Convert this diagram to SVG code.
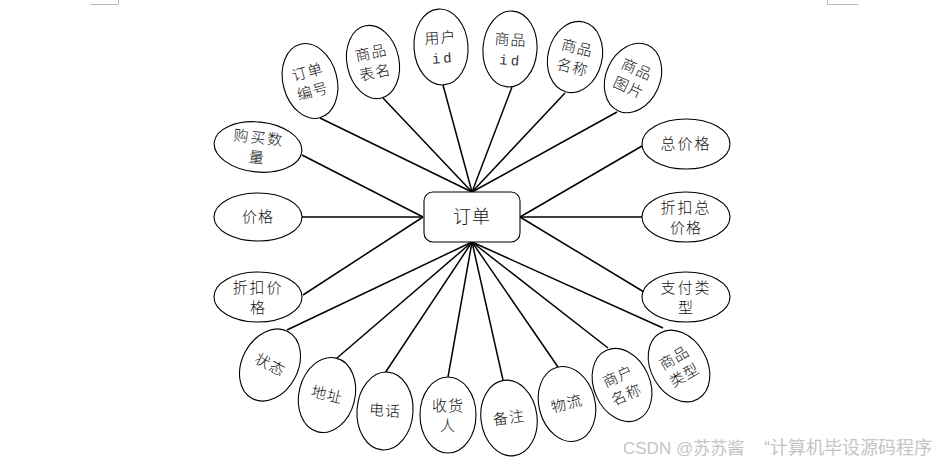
<svg xmlns="http://www.w3.org/2000/svg" width="936" height="464" viewBox="0 0 936 464">
<style>
.e{fill:#fff;stroke:#000;stroke-width:1.1}
.t{font-family:"Noto Sans CJK SC","Liberation Sans",sans-serif;font-size:15px;font-weight:300;fill:#111;text-anchor:middle;letter-spacing:1px}
.id{font-family:"Liberation Mono",monospace;font-size:14px;font-weight:normal;letter-spacing:3px;fill:#333}
.c line{stroke:#000;stroke-width:1.5}
.wm{font-family:"Liberation Sans","Noto Sans CJK SC",sans-serif;font-size:17px;fill:#c4c4c4}
</style>
<rect width="936" height="464" fill="#fff"/>
<path d="M90 4.5H118.5V0M827.5 0V4.5H858" fill="none" stroke="#bbb" stroke-width="1"/>
<g class="c" id="connectors">
<line x1="320" y1="118" x2="472" y2="192"/>
<line x1="383" y1="98" x2="472" y2="192"/>
<line x1="443" y1="85" x2="472" y2="192"/>
<line x1="512" y1="87" x2="472" y2="192"/>
<line x1="565" y1="93" x2="472" y2="192"/>
<line x1="617" y1="112" x2="472" y2="192"/>
<line x1="302" y1="155" x2="423" y2="217"/>
<line x1="302" y1="217" x2="423" y2="217"/>
<line x1="303" y1="295" x2="423" y2="217"/>
<line x1="642" y1="146" x2="520" y2="217"/>
<line x1="642" y1="217" x2="520" y2="217"/>
<line x1="644" y1="292" x2="520" y2="217"/>
<line x1="287" y1="330" x2="472" y2="242"/>
<line x1="337" y1="358" x2="472" y2="242"/>
<line x1="385" y1="373" x2="472" y2="242"/>
<line x1="448" y1="377" x2="472" y2="242"/>
<line x1="503" y1="380" x2="472" y2="242"/>
<line x1="558" y1="367" x2="472" y2="242"/>
<line x1="608" y1="348" x2="472" y2="242"/>
<line x1="663" y1="328" x2="472" y2="242"/>
</g>
<g id="order">
<rect x="424" y="192" width="96" height="50" rx="9" fill="#fff" stroke="#000" stroke-width="1.1"/>
<text x="472" y="223" class="t" style="font-size:18px">订单</text>
</g>
<g id="n-ddbh" transform="translate(310,81) rotate(-15)"><ellipse class="e" rx="27" ry="38"/><text class="t" y="-4">订单</text><text class="t" y="16">编号</text></g>
<g id="n-spbm" transform="translate(373,62) rotate(-12)"><ellipse class="e" rx="26" ry="37"/><text class="t" y="-4">商品</text><text class="t" y="16">表名</text></g>
<g id="n-yhid" transform="translate(441,47) rotate(-4)"><ellipse class="e" rx="27" ry="38"/><text class="t" y="-4">用户</text><text class="t id" x="1.5" y="16">id</text></g>
<g id="n-spid" transform="translate(510,49) rotate(4)"><ellipse class="e" rx="27" ry="38"/><text class="t" y="-4">商品</text><text class="t id" x="1.5" y="16">id</text></g>
<g id="n-spmc" transform="translate(575,57) rotate(14)"><ellipse class="e" rx="27" ry="36"/><text class="t" y="-4">商品</text><text class="t" y="16">名称</text></g>
<g id="n-sptp" transform="translate(633,78) rotate(24)"><ellipse class="e" rx="27" ry="36"/><text class="t" y="-4">商品</text><text class="t" y="16">图片</text></g>
<g id="n-gmsl" transform="translate(258,147) rotate(6)"><ellipse class="e" rx="44" ry="25"/><text class="t" y="-4" style="letter-spacing:2px">购买数</text><text class="t" y="16">量</text></g>
<g id="n-jg"><ellipse class="e" cx="258" cy="217" rx="44" ry="24"/><text class="t" x="258" y="222">价格</text></g>
<g id="n-zkjg"><ellipse class="e" cx="258" cy="297" rx="44" ry="25"/><text class="t" x="258" y="293" style="letter-spacing:2px">折扣价</text><text class="t" x="258" y="313">格</text></g>
<g id="n-zjg"><ellipse class="e" cx="686" cy="144" rx="44" ry="25"/><text class="t" x="686" y="149" style="letter-spacing:2px">总价格</text></g>
<g id="n-zkzjg"><ellipse class="e" cx="686" cy="217" rx="44" ry="25"/><text class="t" x="686" y="213" style="letter-spacing:2px">折扣总</text><text class="t" x="686" y="233">价格</text></g>
<g id="n-zflx"><ellipse class="e" cx="686" cy="297" rx="44" ry="25"/><text class="t" x="686" y="293" style="letter-spacing:2px">支付类</text><text class="t" x="686" y="313">型</text></g>
<g id="n-zt" transform="translate(270,365) rotate(28)"><ellipse class="e" rx="28" ry="38"/><text class="t" y="5">状态</text></g>
<g id="n-dz" transform="translate(327,395) rotate(14)"><ellipse class="e" rx="28" ry="38"/><text class="t" y="5">地址</text></g>
<g id="n-dh" transform="translate(385,411) rotate(4)"><ellipse class="e" rx="28" ry="39"/><text class="t" y="5">电话</text></g>
<g id="n-shr" transform="translate(448,415)"><ellipse class="e" rx="28" ry="38"/><text class="t" y="-4">收货</text><text class="t" y="16">人</text></g>
<g id="n-bz" transform="translate(509,418) rotate(-8)"><ellipse class="e" rx="28" ry="38"/><text class="t" y="5">备注</text></g>
<g id="n-wl" transform="translate(567,404) rotate(-15)"><ellipse class="e" rx="28" ry="38"/><text class="t" y="5">物流</text></g>
<g id="n-shmc" transform="translate(622,385) rotate(-24)"><ellipse class="e" rx="28" ry="38"/><text class="t" y="-4">商户</text><text class="t" y="16">名称</text></g>
<g id="n-splx" transform="translate(679,366) rotate(-30)"><ellipse class="e" rx="28" ry="38"/><text class="t" y="-4">商品</text><text class="t" y="16">类型</text></g>
<text class="wm" x="623" y="454">CSDN @苏苏酱</text>
<text class="wm" x="764" y="454" style="font-size:18px">“计算机毕设源码程序</text>
</svg>
